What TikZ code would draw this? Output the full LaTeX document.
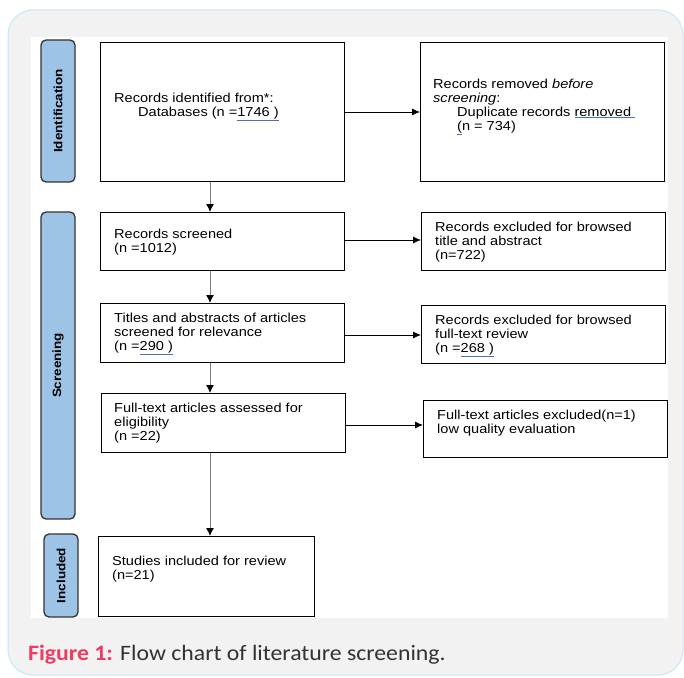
\documentclass[tikz,border=0pt]{standalone}
\usepackage{fontspec}
\setmainfont{Liberation Sans}[FakeStretch=1.12]
\newfontfamily\capfont{Carlito}[FakeStretch=1.08]
\usetikzlibrary{arrows.meta}
\definecolor{cardfill}{HTML}{F2F2F2}
\definecolor{cardline}{HTML}{C9E4F2}
\definecolor{sidefill}{HTML}{9DC3E6}
\definecolor{sideline}{HTML}{333333}
\definecolor{ulblue}{HTML}{4A6FB5}
\definecolor{figred}{HTML}{EE3B63}
\definecolor{captext}{HTML}{333333}
\definecolor{vline}{HTML}{7A7A7A}
\newcommand{\bu}[1]{{\color{ulblue}\underline{\color{black}#1}}}
\tikzset{
  boxnode/.style={draw=black, line width=1.3pt, fill=white},
  sidenode/.style={draw=sideline, line width=1.3pt, fill=sidefill, rounded corners=5pt},
  sidetext/.style={rotate=90, font=\fontsize{12}{13}\selectfont\bfseries, text=black},
  btext/.style={anchor=north west, inner sep=0pt, align=left, font=\fontsize{13}{14}\selectfont},
  varrow/.style={draw=vline, line width=1pt, -{Latex[length=8pt,width=8pt,black]}},
  harrow/.style={draw=black, line width=0.8pt, -{Latex[length=8pt,width=7pt]}}
}
\begin{document}
\begin{tikzpicture}[x=1pt,y=-1pt]
\useasboundingbox (0,0) rectangle (684,677);
% card
\path[fill=cardfill, draw=cardline, line width=1pt, rounded corners=25pt] (8,10) rectangle (683,675);
\fill[white] (31,37) rectangle (668,618);
% side labels
\path[sidenode] (41,40) rectangle node[sidetext] (lid) {Identification} (75,182);
\path[sidenode] (41,212) rectangle node[sidetext] (lsc) {Screening} (75,519);
\path[sidenode] (44,534) rectangle node[sidetext] (lin) {Included} (78,617);
% left boxes
\node[boxnode, minimum width=244pt, minimum height=139pt, anchor=north west] (b1) at (100,42) {};
\node[boxnode, minimum width=244pt, minimum height=58pt, anchor=north west] (b2) at (100,212) {};
\node[boxnode, minimum width=244pt, minimum height=59pt, anchor=north west] (b3) at (100,303) {};
\node[boxnode, minimum width=244pt, minimum height=59pt, anchor=north west] (b4) at (101,393) {};
\node[boxnode, minimum width=216pt, minimum height=80pt, anchor=north west] (b5) at (98,536) {};
% right boxes
\node[boxnode, minimum width=244pt, minimum height=139pt, anchor=north west] (r1) at (420,42) {};
\node[boxnode, minimum width=244pt, minimum height=58pt, anchor=north west] (r2) at (421,212) {};
\node[boxnode, minimum width=244pt, minimum height=58pt, anchor=north west] (r3) at (421,305) {};
\node[boxnode, minimum width=244pt, minimum height=57pt, anchor=north west] (r4) at (423,400) {};
% texts
\node[btext] (t1) at (114,92) {\strut Records identified from*:\\\strut\hspace{24pt}Databases (n =\bu{1746 )}};
\node[btext] (tr1) at (433,78) {\strut Records removed \textit{before}\\\strut\textit{screening}:\\\strut\hspace{24pt}Duplicate records \bu{removed\ }\\\strut\hspace{24pt}\bu{(}n = 734)};
\node[btext] (t2) at (114,228) {\strut Records screened\\\strut(n =1012)};
\node[btext] (tr2) at (435,221) {\strut Records excluded for browsed\\\strut title and abstract\\\strut(n=722)};
\node[btext] (t3) at (114,312) {\strut Titles and abstracts of articles\\\strut screened for relevance\\\strut(n =\bu{290 )}};
\node[btext] (tr3) at (435,314) {\strut Records excluded for browsed\\\strut full-text review\\\strut(n =\bu{268 )}};
\node[btext] (t4) at (114,402) {\strut Full-text articles assessed for\\\strut eligibility\\\strut(n =22)};
\node[btext] (tr4) at (437,409) {\strut Full-text articles excluded(n=1)\\\strut low quality evaluation};
\node[btext] (t5) at (112,555) {\strut Studies included for review\\\strut(n=21)};
% vertical arrows
\draw[varrow] (b1.south -| 210,0) -- (b2.north -| 210,0);
\draw[varrow] (b2.south -| 210,0) -- (b3.north -| 210,0);
\draw[varrow] (b3.south -| 210,0) -- (b4.north -| 210,0);
\draw[varrow] (b4.south -| 210,0) -- (b5.north -| 210,0);
% horizontal arrows
\draw[harrow] (b1.east |- 0,112) -- (r1.west |- 0,112);
\draw[harrow] (b2.east |- 0,240) -- (r2.west |- 0,240);
\draw[harrow] (b3.east |- 0,335) -- (r3.west |- 0,335);
\draw[harrow] (b4.east |- 0,425) -- (r4.west |- 0,425);
% caption
\node[anchor=base west, inner sep=0pt, font=\capfont\fontsize{22}{26}\selectfont, text=captext] (cap) at (28,660) {{\bfseries\color{figred}Figure 1:} Flow chart of literature screening.};
\end{tikzpicture}
\end{document}
